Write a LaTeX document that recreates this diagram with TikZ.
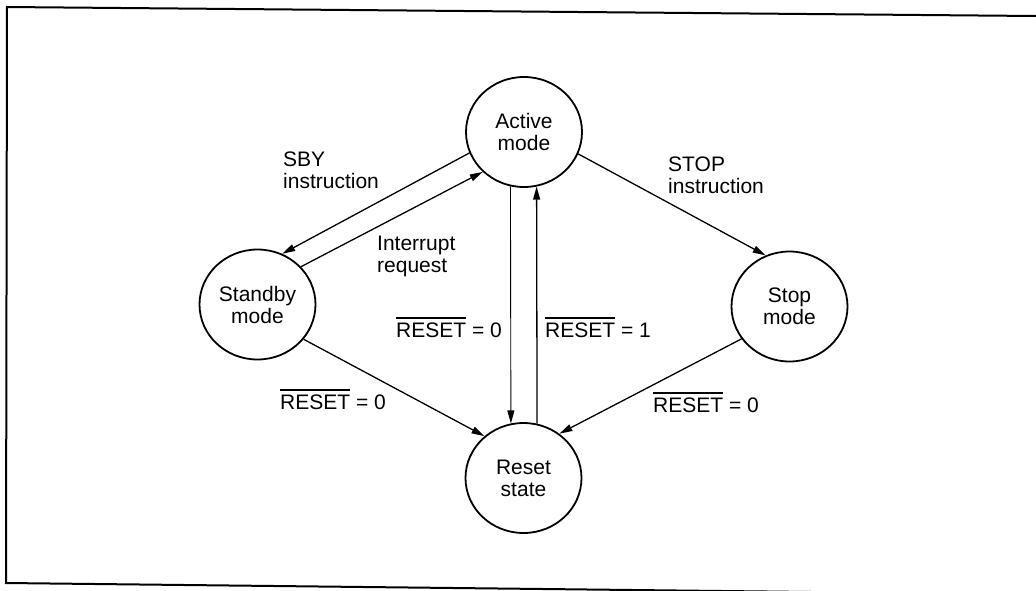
\documentclass[tikz,border=0pt]{standalone}
\usepackage{fontspec}
\setmainfont{Liberation Sans}
\usetikzlibrary{arrows.meta,shapes.geometric}
% active-low signal name with a bar over it
\newcommand\lowsig[1]{\vbox{\hrule height 1.3pt\kern 3.6pt\hbox{#1}}}

\begin{document}
\begin{tikzpicture}[x=1pt,y=-1pt,
  state/.style={ellipse, draw, line width=1.8pt, minimum width=116pt,
    minimum height=110pt, inner sep=0pt, align=center,
    font=\fontsize{21}{22}\selectfont},
  trans/.style={line width=1.3pt, -{Triangle[length=13pt,width=7pt]}},
  lbl/.style={anchor=base west, inner sep=0pt, align=left,
    font=\fontsize{21}{21.5}\selectfont}]
\useasboundingbox (0,0) rectangle (1036,590);
\clip (0,0) rectangle (1036,590);

% frame
\draw[line width=2pt] (1036,16) -- (7,7) -- (6,583) -- (1036,594.5);

% states
\node[state] (act) at (524,132)   {Active\\mode};
\node[state] (sby) at (257.5,304.5) {Standby\\mode};
\node[state] (rst) at (523.5,478) {Reset\\state};
\node[state] (stp) at (789.5,306.5) {Stop\\mode};

% transitions
\draw[trans] (act.201.3) -- (sby.64.1);
\draw[trans] (sby.41) -- (act.224.3);
\draw[trans, line width=0.9pt] (act.256.4) -- (rst.103.1);
\draw[trans] (rst.76.9) -- (act.283.6);
\draw[trans] (sby.323) -- (rst.133.2);
\draw[trans] (stp.214) -- (rst.51);
\draw[trans] (act.338.6) -- (stp.115);

% transition labels (base = baseline of the last line)
\node[lbl] (tSby)  at (283,188) {SBY\\instruction};
\node[lbl] (tInt)  at (377,272) {Interrupt\\request};
\node[lbl] (tRa0)  at (396,337) {\lowsig{RESET} = 0};
\node[lbl] (tRa1)  at (545,337) {\lowsig{RESET} = 1};
\node[lbl] (tRs0)  at (280,409) {\lowsig{RESET} = 0};
\node[lbl] (tRp0)  at (653,412) {\lowsig{RESET} = 0};
\node[lbl] (tStop) at (668,193) {STOP\\instruction};
\end{tikzpicture}
\end{document}
